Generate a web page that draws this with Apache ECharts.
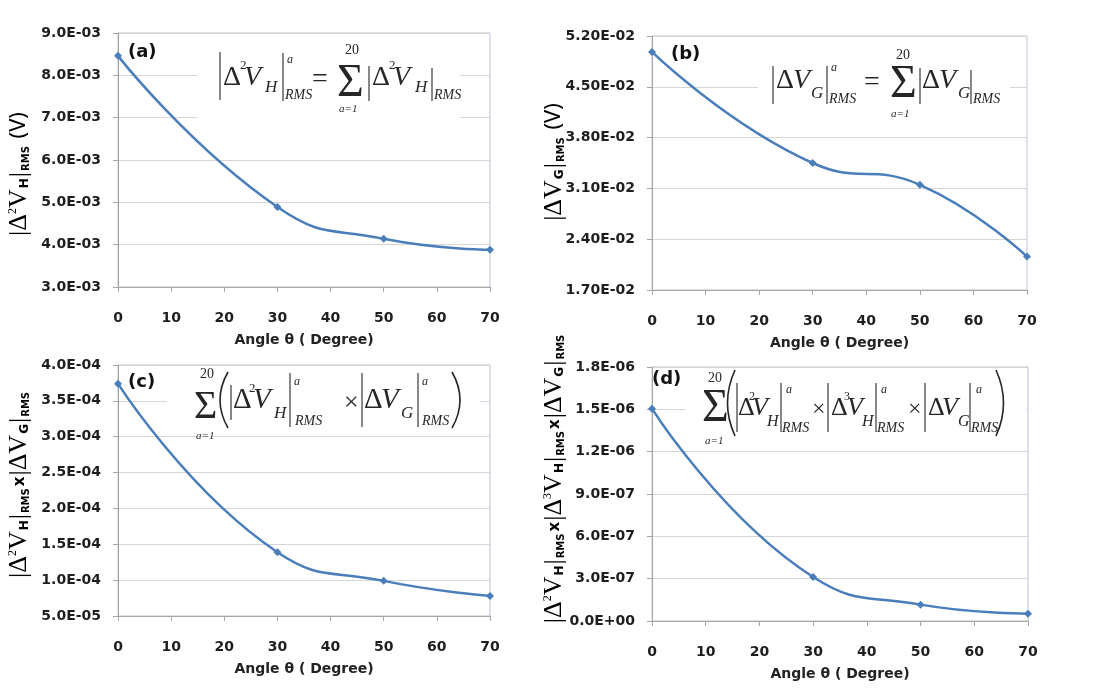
<!DOCTYPE html>
<html>
<head>
<meta charset="utf-8">
<script src="https://cdn.jsdelivr.net/npm/echarts@6.0.0/dist/echarts.min.js"></script>
<style>
html,body{margin:0;padding:0;background:#fff;}
#chart{width:1098px;height:693px;}
</style>
</head>
<body>
<div id="chart"></div>
<script>
// ---- data ----
const angles = [0, 30, 50, 70];
const valuesA = [8.46e-3, 4.89e-3, 4.14e-3, 3.88e-3];
const valuesB = [4.98e-2, 3.45e-2, 3.15e-2, 2.16e-2];
const valuesC = [3.74e-4, 1.39e-4, 0.99e-4, 0.78e-4];
const valuesD = [1.505e-6, 0.312e-6, 0.116e-6, 0.052e-6];
const xTicks = { min: 0, max: 70, step: 10 };
const yTicksA = { min: 3.0e-3, max: 9.0e-3, step: 1.0e-3, digits: 1 };
const yTicksB = { min: 1.7e-2, max: 5.2e-2, step: 0.7e-2, digits: 2 };
const yTicksC = { min: 5.0e-5, max: 4.0e-4, step: 5.0e-5, digits: 1 };
const yTicksD = { min: 0, max: 1.8e-6, step: 3.0e-7, digits: 1 };
const xTitle = 'Angle θ ( Degree)';
const panelNames = ['(a)', '(b)', '(c)', '(d)'];

function sci(v, d) {
  if (Math.abs(v) < 1e-20) v = 0;
  const s = Number(v).toExponential(d);
  const parts = s.split('e');
  const e = parseInt(parts[1], 10);
  const sign = e < 0 ? '-' : '+';
  const n = Math.abs(e);
  return parts[0] + 'E' + sign + (n < 10 ? '0' : '') + n;
}

const chart = echarts.init(document.getElementById('chart'));
const grids = [
  { left: 118, top: 33, width: 372, height: 254 },
  { left: 652, top: 36, width: 375, height: 254 },
  { left: 118, top: 365, width: 372, height: 251 },
  { left: 652, top: 367, width: 376, height: 254 }
];
const yTicks = [yTicksA, yTicksB, yTicksC, yTicksD];
const allValues = [valuesA, valuesB, valuesC, valuesD];

const lblFont = 'DejaVu Sans';
const gridOpts = grids.map(g => Object.assign({ show: true, borderColor: '#b9c4d2', borderWidth: 1, backgroundColor: 'transparent' }, g));

const xAxes = grids.map((g, i) => ({
  type: 'value', gridIndex: i, min: xTicks.min, max: xTicks.max, interval: xTicks.step,
  name: xTitle, nameLocation: 'middle', nameGap: 46,
  nameTextStyle: { fontFamily: lblFont, fontWeight: 'bold', fontSize: 14, color: '#222' },
  axisLine: { show: true, lineStyle: { color: '#a6a6a6', width: 1 } },
  axisTick: { show: true, length: 5, lineStyle: { color: '#a6a6a6' } },
  splitLine: { show: false },
  axisLabel: { margin: 24, fontFamily: lblFont, fontWeight: 'bold', fontSize: 14, color: '#1e1e1e' }
}));
const yAxes = grids.map((g, i) => ({
  type: 'value', gridIndex: i, min: yTicks[i].min, max: yTicks[i].max, interval: yTicks[i].step,
  axisLine: { show: true, lineStyle: { color: '#a6a6a6', width: 1 } },
  axisTick: { show: true, length: 5, lineStyle: { color: '#a6a6a6' } },
  splitLine: { show: true, lineStyle: { color: '#d6d6d6', width: 1 } },
  axisLabel: { margin: 17, fontFamily: lblFont, fontWeight: 'bold', fontSize: 14, color: '#1e1e1e',
    formatter: v => sci(v, yTicks[i].digits) }
}));
const series = allValues.map((vals, i) => ({
  type: 'line', xAxisIndex: i, yAxisIndex: i, z: 3,
  data: angles.map((a, k) => [a, vals[k]]),
  smooth: true,
  symbol: 'diamond', symbolSize: 8,
  lineStyle: { color: '#4a7ebb', width: 2.5 },
  itemStyle: { color: '#4a7ebb' }
}));

// ---- annotation helpers ----
const INK = '#262626';
function tx(s, x, y, size, it) {
  return { type: 'text', z: 10, x: x, y: y, style: { text: s, font: (it ? 'italic ' : '') + size + 'px "Liberation Serif"', fill: INK, align: 'left', verticalAlign: 'middle' } };
}
function bar(x, y1, y2) {
  return { type: 'line', z: 10, shape: { x1: x, y1: y1, x2: x, y2: y2 }, style: { stroke: INK, lineWidth: 1.1 } };
}
function paren(x, y1, y2, cx) {
  return { type: 'bezierCurve', z: 10, shape: { x1: x, y1: y1, x2: x, y2: y2, cpx1: cx, cpy1: (y1 + y2) / 2 }, style: { stroke: INK, lineWidth: 1.6, fill: null } };
}
function box(x, y, w, h) {
  return { type: 'rect', z: 1, shape: { x: x, y: y, width: w, height: h }, style: { fill: '#ffffff' } };
}

const formulaA = [
  box(197, 40, 263, 80),
  bar(220, 52, 100), tx('Δ', 223, 78, 28), tx('2', 240, 66, 13), tx('V', 244, 78, 28, true), tx('H', 265, 88, 17, true),
  bar(283, 53, 101), tx('a', 287, 60, 12, true), tx('RMS', 285, 95, 14, true),
  tx('=', 312, 80, 28),
  tx('Σ', 337, 84, 46), tx('20', 345, 50, 14), tx('a=1', 339, 109, 11, true),
  bar(369, 66, 101), tx('Δ', 372, 78, 28), tx('2', 389, 66, 13), tx('V', 393, 78, 28, true), tx('H', 415, 88, 17, true),
  bar(432, 68, 101), tx('RMS', 434, 95, 14, true)
];
const formulaB = [
  box(758, 42, 252, 84),
  bar(773, 66, 104), tx('Δ', 776, 81, 28), tx('V', 793, 81, 28, true), tx('G', 811, 94, 17, true),
  bar(827, 66, 104), tx('a', 831, 68, 12, true), tx('RMS', 829, 99, 14, true),
  tx('=', 864, 83, 28),
  tx('Σ', 890, 85, 46), tx('20', 896, 55, 14), tx('a=1', 891, 114, 11, true),
  bar(920, 68, 104), tx('Δ', 922, 81, 28), tx('V', 939, 81, 28, true), tx('G', 958, 94, 17, true),
  bar(971, 70, 104), tx('RMS', 973, 99, 14, true)
];
const formulaC = [
  box(167, 367, 313, 65),
  tx('Σ', 194, 407, 40), tx('20', 200, 374, 14), tx('a=1', 196, 436, 11, true),
  paren(228, 372, 428, 212),
  bar(231, 385, 420), tx('Δ', 233, 400, 29), tx('2', 249, 389, 13), tx('V', 253, 400, 29, true), tx('H', 274, 414, 17, true),
  bar(290, 373, 427), tx('a', 294, 382, 12, true), tx('RMS', 295, 421, 14, true),
  tx('×', 344, 403, 26),
  bar(362, 373, 427), tx('Δ', 364, 400, 29), tx('V', 381, 400, 29, true), tx('G', 401, 414, 17, true),
  bar(418, 373, 427), tx('a', 422, 382, 12, true), tx('RMS', 422, 421, 14, true),
  paren(452, 372, 428, 468)
];
const formulaD = [
  box(685, 370, 341, 72),
  tx('Σ', 702, 409, 46), tx('20', 708, 378, 14), tx('a=1', 705, 441, 11, true),
  paren(735, 370, 436, 720),
  bar(737, 383, 432), tx('Δ', 738, 408, 26), tx('2', 749, 397, 12), tx('V', 752, 408, 26, true), tx('H', 767, 422, 16, true),
  bar(781, 383, 432), tx('a', 786, 390, 12, true), tx('RMS', 782, 428, 14, true),
  tx('×', 812, 410, 24),
  bar(828, 383, 432), tx('Δ', 831, 408, 26), tx('3', 844, 397, 12), tx('V', 847, 408, 26, true), tx('H', 862, 422, 16, true),
  bar(876, 383, 432), tx('a', 881, 390, 12, true), tx('RMS', 877, 428, 14, true),
  tx('×', 908, 410, 24),
  bar(925, 383, 432), tx('Δ', 928, 408, 26), tx('V', 942, 408, 26, true), tx('G', 958, 422, 16, true),
  bar(970, 383, 432), tx('a', 976, 390, 12, true), tx('RMS', 971, 428, 14, true),
  paren(996, 370, 436, 1011)
];

const rich = {
  s: { fontFamily: 'Liberation Serif', fontSize: 26, color: INK, lineHeight: 30, verticalAlign: 'middle' },
  sup: { fontFamily: 'Liberation Serif', fontSize: 12, color: INK, lineHeight: 30, verticalAlign: 'top', padding: [3, 0, 0, 0] },
  sub: { fontFamily: 'DejaVu Sans', fontWeight: 'bold', fontSize: 12, color: INK, lineHeight: 30, verticalAlign: 'bottom', padding: [0, 1, 3, 1] },
  rms: { fontFamily: 'DejaVu Sans', fontWeight: 'bold', fontSize: 10, color: INK, lineHeight: 30, verticalAlign: 'bottom', padding: [0, 2, 3, 1] },
  x: { fontFamily: 'DejaVu Sans', fontWeight: 'bold', fontSize: 15, color: INK, lineHeight: 30, verticalAlign: 'bottom', padding: [0, 1, 6, 0] },
  t: { fontFamily: 'Noto Sans', fontSize: 22, color: INK, lineHeight: 30, verticalAlign: 'middle' }
};
function ytitle(x, y, str) {
  return { type: 'text', z: 10, x: x, y: y, rotation: Math.PI / 2,
    style: { text: str, rich: rich, align: 'center', verticalAlign: 'middle' } };
}
const gH2 = '{s||Δ}{sup|2}{s|V}{sub|H}{s||}{rms|RMS}';
const gH3 = '{s||Δ}{sup|3}{s|V}{sub|H}{s||}{rms|RMS}';
const gG = '{s||ΔV}{sub|G}{s||}{rms|RMS}';
const titles = [
  ytitle(19, 174, gH2 + '{t| (V)}'),
  ytitle(554, 162, gG + '{t| (V)}'),
  ytitle(19, 484, gH2 + '{x|x}' + gG),
  ytitle(554, 478, gH2 + '{x|x}' + gH3 + '{x|x}' + gG)
];
const panelPos = [[128, 52], [671, 54], [128, 382], [652, 379]];
const panelLabels = panelNames.map((n, i) => ({
  type: 'text', z: 10, x: panelPos[i][0], y: panelPos[i][1],
  style: { text: n, font: 'bold 18px "DejaVu Sans"', fill: '#111', align: 'left', verticalAlign: 'middle' }
}));

chart.setOption({
  backgroundColor: '#ffffff',
  animation: false,
  grid: gridOpts,
  xAxis: xAxes,
  yAxis: yAxes,
  series: series,
  graphic: { elements: [].concat(formulaA, formulaB, formulaC, formulaD, titles, panelLabels) }
});
</script>
</body>
</html>
